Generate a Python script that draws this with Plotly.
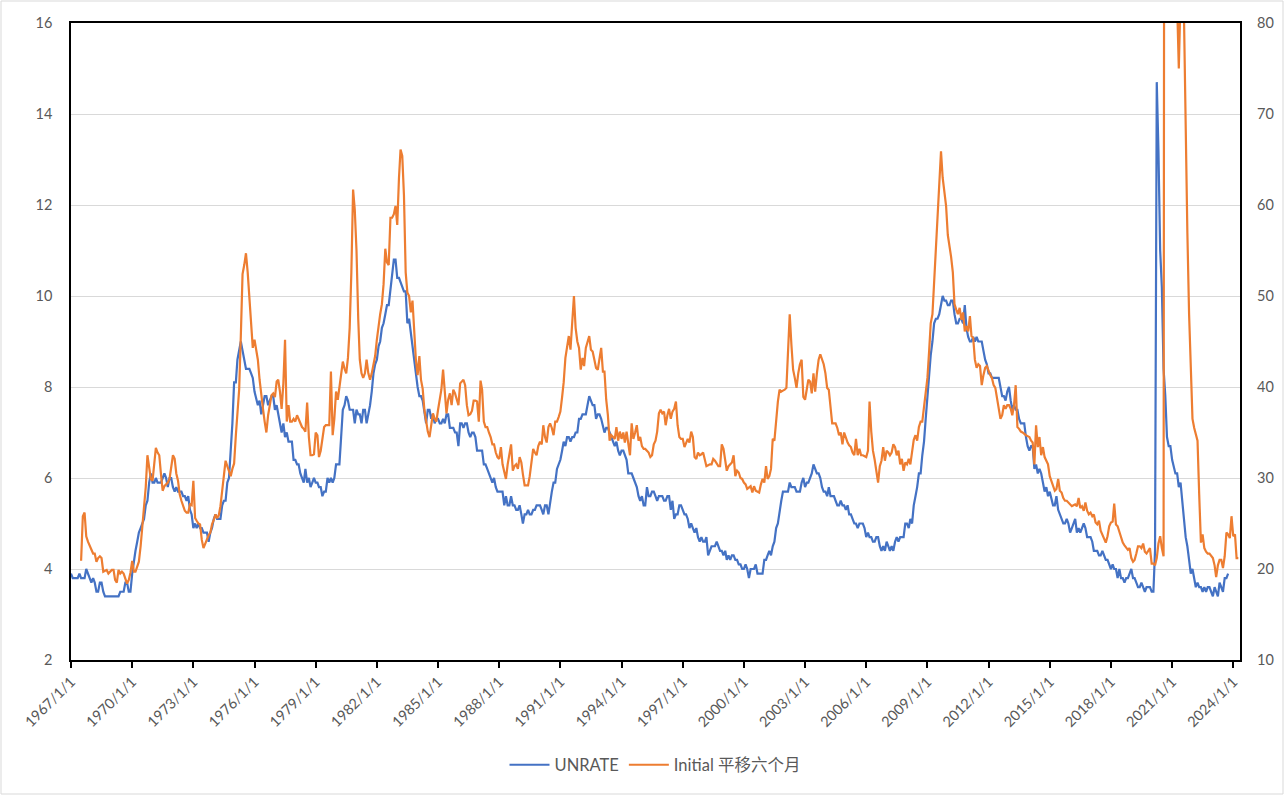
import pandas as pd
import plotly.graph_objects as go

# UNRATE, monthly from 1967-01 (one line per year)
unrate = [
    3.9, 3.8, 3.8, 3.8, 3.8, 3.9, 3.8, 3.8, 3.8, 4.0, 3.9, 3.8,
    3.7, 3.8, 3.7, 3.5, 3.5, 3.7, 3.7, 3.5, 3.4, 3.4, 3.4, 3.4,
    3.4, 3.4, 3.4, 3.4, 3.4, 3.5, 3.5, 3.5, 3.7, 3.7, 3.5, 3.5,
    3.9, 4.2, 4.4, 4.6, 4.8, 4.9, 5.0, 5.1, 5.4, 5.5, 5.9, 6.1,
    5.9, 5.9, 6.0, 5.9, 5.9, 5.9, 6.0, 6.1, 6.0, 5.8, 6.0, 6.0,
    5.8, 5.7, 5.8, 5.7, 5.7, 5.7, 5.6, 5.6, 5.5, 5.6, 5.3, 5.2,
    4.9, 5.0, 4.9, 5.0, 4.9, 4.9, 4.8, 4.8, 4.8, 4.6, 4.8, 4.9,
    5.1, 5.2, 5.1, 5.1, 5.1, 5.4, 5.5, 5.5, 5.9, 6.0, 6.6, 7.2,
    8.1, 8.1, 8.6, 8.8, 9.0, 8.8, 8.6, 8.4, 8.4, 8.4, 8.3, 8.2,
    7.9, 7.7, 7.6, 7.7, 7.4, 7.6, 7.8, 7.8, 7.6, 7.7, 7.8, 7.8,
    7.5, 7.6, 7.4, 7.2, 7.0, 7.2, 6.9, 7.0, 6.8, 6.8, 6.8, 6.4,
    6.4, 6.3, 6.3, 6.1, 6.0, 5.9, 6.2, 5.9, 6.0, 5.8, 5.9, 6.0,
    5.9, 5.9, 5.8, 5.8, 5.6, 5.7, 5.7, 6.0, 5.9, 6.0, 5.9, 6.0,
    6.3, 6.3, 6.3, 6.9, 7.5, 7.6, 7.8, 7.7, 7.5, 7.5, 7.5, 7.2,
    7.5, 7.4, 7.4, 7.2, 7.5, 7.5, 7.2, 7.4, 7.6, 7.9, 8.3, 8.5,
    8.6, 8.9, 9.0, 9.3, 9.4, 9.6, 9.8, 9.8, 10.1, 10.4, 10.8, 10.8,
    10.4, 10.4, 10.3, 10.2, 10.1, 10.1, 9.4, 9.5, 9.2, 8.8, 8.5, 8.3,
    8.0, 7.8, 7.8, 7.7, 7.4, 7.2, 7.5, 7.5, 7.3, 7.4, 7.2, 7.3,
    7.3, 7.2, 7.2, 7.3, 7.2, 7.4, 7.4, 7.1, 7.1, 7.1, 7.0, 7.0,
    6.7, 7.2, 7.2, 7.1, 7.2, 7.2, 7.0, 6.9, 7.0, 7.0, 6.9, 6.6,
    6.6, 6.6, 6.6, 6.3, 6.3, 6.2, 6.1, 6.0, 5.9, 6.0, 5.8, 5.7,
    5.7, 5.7, 5.7, 5.4, 5.6, 5.4, 5.4, 5.6, 5.4, 5.4, 5.3, 5.3,
    5.4, 5.2, 5.0, 5.2, 5.2, 5.3, 5.2, 5.2, 5.3, 5.3, 5.4, 5.4,
    5.4, 5.3, 5.2, 5.4, 5.4, 5.2, 5.5, 5.7, 5.9, 5.9, 6.2, 6.3,
    6.4, 6.6, 6.8, 6.7, 6.9, 6.9, 6.8, 6.9, 6.9, 7.0, 7.0, 7.3,
    7.3, 7.4, 7.4, 7.4, 7.6, 7.8, 7.7, 7.6, 7.6, 7.3, 7.4, 7.4,
    7.3, 7.1, 7.0, 7.1, 7.1, 7.0, 6.9, 6.8, 6.7, 6.8, 6.6, 6.5,
    6.6, 6.6, 6.5, 6.4, 6.1, 6.1, 6.1, 6.0, 5.9, 5.8, 5.6, 5.5,
    5.6, 5.4, 5.4, 5.8, 5.6, 5.6, 5.7, 5.7, 5.6, 5.5, 5.6, 5.6,
    5.6, 5.5, 5.5, 5.6, 5.6, 5.3, 5.5, 5.1, 5.2, 5.2, 5.4, 5.4,
    5.3, 5.2, 5.2, 5.1, 4.9, 5.0, 4.9, 4.8, 4.9, 4.7, 4.6, 4.7,
    4.6, 4.6, 4.7, 4.3, 4.4, 4.5, 4.5, 4.5, 4.6, 4.5, 4.4, 4.4,
    4.3, 4.4, 4.2, 4.3, 4.2, 4.3, 4.3, 4.2, 4.2, 4.1, 4.1, 4.0,
    4.0, 4.1, 4.0, 3.8, 4.0, 4.0, 4.0, 4.1, 3.9, 3.9, 3.9, 3.9,
    4.2, 4.2, 4.3, 4.4, 4.3, 4.5, 4.6, 4.9, 5.0, 5.3, 5.5, 5.7,
    5.7, 5.7, 5.7, 5.9, 5.8, 5.8, 5.8, 5.7, 5.7, 5.7, 5.9, 6.0,
    5.8, 5.9, 5.9, 6.0, 6.1, 6.3, 6.2, 6.1, 6.1, 6.0, 5.8, 5.7,
    5.7, 5.6, 5.8, 5.6, 5.6, 5.6, 5.5, 5.4, 5.4, 5.5, 5.4, 5.4,
    5.3, 5.4, 5.2, 5.2, 5.1, 5.0, 5.0, 4.9, 5.0, 5.0, 5.0, 4.9,
    4.7, 4.8, 4.7, 4.7, 4.6, 4.6, 4.7, 4.7, 4.5, 4.4, 4.5, 4.4,
    4.6, 4.5, 4.4, 4.5, 4.4, 4.6, 4.7, 4.6, 4.7, 4.7, 4.7, 5.0,
    5.0, 4.9, 5.1, 5.0, 5.4, 5.6, 5.8, 6.1, 6.1, 6.5, 6.8, 7.3,
    7.8, 8.3, 8.7, 9.0, 9.4, 9.5, 9.5, 9.6, 9.8, 10.0, 9.9, 9.9,
    9.8, 9.8, 9.9, 9.9, 9.6, 9.4, 9.4, 9.5, 9.5, 9.4, 9.8, 9.3,
    9.1, 9.0, 9.0, 9.1, 9.0, 9.1, 9.0, 9.0, 9.0, 8.8, 8.6, 8.5,
    8.3, 8.3, 8.2, 8.2, 8.2, 8.2, 8.2, 8.0, 7.8, 7.8, 7.7, 7.9,
    8.0, 7.7, 7.5, 7.6, 7.5, 7.5, 7.3, 7.2, 7.2, 7.2, 6.9, 6.7,
    6.6, 6.7, 6.7, 6.2, 6.3, 6.1, 6.2, 6.1, 5.9, 5.7, 5.8, 5.6,
    5.7, 5.5, 5.4, 5.4, 5.6, 5.3, 5.2, 5.1, 5.0, 5.0, 5.1, 5.0,
    4.8, 4.9, 5.0, 5.1, 4.8, 4.9, 4.8, 4.9, 5.0, 4.9, 4.7, 4.7,
    4.7, 4.6, 4.4, 4.4, 4.4, 4.3, 4.3, 4.4, 4.3, 4.2, 4.2, 4.1,
    4.0, 4.1, 4.0, 4.0, 3.8, 4.0, 3.8, 3.8, 3.7, 3.8, 3.8, 3.9,
    4.0, 3.8, 3.8, 3.7, 3.6, 3.6, 3.7, 3.6, 3.5, 3.6, 3.6, 3.6,
    3.5, 3.5, 4.4, 14.7, 13.2, 11.0, 10.2, 8.4, 7.8, 6.9, 6.7, 6.7,
    6.4, 6.2, 6.1, 6.1, 5.8, 5.9, 5.4, 5.1, 4.7, 4.5, 4.2, 3.9,
    4.0, 3.8, 3.6, 3.7, 3.6, 3.6, 3.5, 3.6, 3.5, 3.6, 3.6, 3.5,
    3.4, 3.6, 3.5, 3.4, 3.7, 3.6, 3.5, 3.8, 3.8, 3.9,
]

# Initial claims (10k), shifted six months: monthly from 1967-07
claims_shifted = [
    20.9, 25.8, 26.2, 23.6, 23.0, 22.6,
    22.0, 21.7, 21.7, 20.8, 21.2, 21.4, 21.2, 19.7, 19.8, 19.9, 19.5, 19.7,
    19.9, 19.9, 18.8, 18.5, 19.9, 19.5, 19.7, 19.5, 19.0, 18.4, 18.8, 19.6,
    20.9, 19.7, 19.7, 20.2, 20.8, 22.5, 24.5, 26.5, 29.0, 32.5, 31.2, 29.9,
    29.7, 32.1, 33.3, 32.8, 32.5, 30.4, 28.6, 29.1, 29.3, 29.5, 29.9, 31.2,
    32.5, 32.1, 30.5, 29.7, 28.2, 27.5, 26.9, 26.4, 26.2, 26.2, 27.1, 27.0,
    29.7, 25.6, 25.3, 25.0, 24.9, 23.2, 22.3, 22.8, 23.4, 23.7, 24.0, 24.9,
    25.4, 26.0, 25.6, 25.9, 26.9, 28.8, 30.6, 31.9, 31.3, 30.8, 30.2, 31.0,
    31.6, 34.7, 36.9, 39.7, 45.6, 52.4, 53.4, 54.7, 52.6, 49.7, 46.9, 44.3,
    45.2, 44.0, 43.0, 40.8, 39.0, 37.6, 36.2, 35.0, 36.9, 38.0, 39.1, 39.3,
    38.9, 40.6, 40.8, 39.5, 37.6, 40.4, 45.2, 36.2, 38.0, 36.2, 36.2, 36.5,
    36.2, 36.9, 36.5, 36.0, 35.6, 35.4, 35.1, 38.3, 34.5, 32.5, 32.5, 32.6,
    35.0, 34.7, 32.3, 33.0, 34.3, 35.6, 35.8, 35.8, 35.8, 41.7, 34.7, 36.5,
    39.5, 38.6, 39.8, 41.0, 42.8, 42.0, 41.5, 43.2, 46.5, 52.6, 61.7, 59.5,
    55.0, 47.5, 43.0, 41.5, 41.0, 41.5, 43.0, 41.5, 40.8, 41.5, 42.5, 43.4,
    45.2, 46.9, 48.0, 49.1, 51.3, 55.2, 53.7, 53.4, 58.6, 58.6, 59.0, 59.9,
    57.8, 63.0, 66.1, 65.4, 61.1, 52.6, 50.4, 50.0, 48.2, 49.5, 45.6, 43.0,
    41.3, 43.4, 40.8, 39.8, 37.5, 36.0, 35.1, 34.5, 35.6, 37.1, 36.5, 36.2,
    37.5, 38.6, 39.7, 41.9, 38.9, 37.1, 38.6, 39.3, 38.0, 39.7, 39.3, 38.5,
    38.0, 40.4, 40.6, 40.8, 40.2, 38.0, 36.9, 37.0, 37.4, 38.5, 38.5, 38.4,
    36.2, 40.7, 39.7, 36.2, 35.6, 35.6, 35.0, 34.5, 33.7, 33.7, 32.8, 32.3,
    32.1, 33.4, 31.5, 30.6, 29.9, 31.5, 32.5, 33.7, 30.8, 31.3, 31.5, 31.0,
    32.3, 31.7, 30.4, 29.2, 29.2, 29.2, 30.2, 31.9, 33.2, 32.8, 32.5, 33.5,
    34.0, 33.7, 35.8, 34.5, 33.9, 35.6, 36.0, 35.5, 34.7, 36.2, 36.2, 36.7,
    37.3, 38.9, 40.5, 43.2, 44.5, 45.6, 44.1, 46.9, 50.0, 46.5, 45.0, 44.3,
    41.9, 43.2, 42.3, 44.3, 45.0, 45.6, 44.1, 43.9, 43.0, 42.1, 41.9, 43.0,
    44.3, 41.7, 41.7, 38.6, 36.9, 34.1, 34.7, 34.5, 34.3, 35.6, 34.1, 35.1,
    34.3, 35.0, 33.9, 35.1, 33.5, 32.5, 36.0, 34.3, 35.0, 35.8, 34.1, 34.5,
    33.5, 33.2, 33.2, 33.0, 32.8, 32.3, 32.5, 33.7, 34.1, 35.1, 37.1, 37.5,
    37.1, 37.3, 35.8, 36.9, 37.6, 36.5, 37.3, 37.6, 38.4, 35.8, 34.5, 34.3,
    34.3, 33.4, 33.8, 34.3, 33.9, 35.1, 34.5, 32.3, 32.1, 32.8, 32.5, 32.6,
    32.8, 32.1, 31.3, 31.4, 31.5, 31.5, 32.1, 31.9, 31.5, 31.3, 31.3, 33.7,
    33.2, 31.7, 30.8, 31.3, 31.5, 31.7, 32.5, 30.2, 30.8, 30.6, 30.0, 29.9,
    29.5, 29.3, 28.8, 29.0, 29.1, 28.4, 29.1, 28.6, 28.5, 28.4, 29.3, 29.9,
    29.5, 31.3, 29.9, 30.2, 31.0, 34.3, 34.1, 36.5, 38.4, 39.7, 39.5, 39.6,
    39.7, 39.9, 44.3, 48.0, 44.7, 41.9, 41.0, 39.9, 41.5, 42.5, 43.0, 38.9,
    38.6, 40.0, 40.8, 40.6, 39.3, 41.5, 39.5, 41.5, 43.0, 43.6, 43.0, 42.5,
    41.5, 39.9, 39.7, 37.3, 36.0, 36.0, 36.0, 35.5, 34.7, 35.0, 33.7, 35.0,
    34.3, 33.9, 33.6, 33.4, 32.8, 32.5, 34.3, 32.5, 33.2, 32.5, 32.5, 32.4,
    32.3, 33.0, 38.4, 35.1, 33.0, 32.0, 30.5, 29.5, 31.3, 31.9, 33.4, 31.9,
    33.0, 32.8, 32.5, 32.8, 33.7, 33.4, 32.5, 33.0, 31.5, 32.1, 30.8, 31.7,
    31.5, 32.1, 31.5, 33.2, 34.2, 34.7, 34.1, 35.6, 36.2, 36.2, 38.0, 39.7,
    41.0, 44.0, 47.0, 48.0, 51.5, 55.5, 58.0, 62.5, 65.9, 63.0, 61.7, 59.9,
    56.7, 55.6, 54.3, 52.6, 49.1, 48.5, 48.0, 48.7, 47.4, 48.2, 46.1, 46.7,
    46.1, 47.8, 45.6, 45.4, 43.0, 42.1, 42.5, 42.3, 40.2, 41.3, 42.1, 42.3,
    41.7, 41.3, 41.0, 40.2, 39.9, 38.6, 37.8, 36.5, 36.9, 38.0, 37.6, 38.0,
    38.0, 37.6, 36.9, 38.0, 40.2, 35.6, 35.4, 35.1, 35.0, 34.8, 34.7, 34.6,
    34.5, 34.1, 33.9, 31.5, 35.8, 33.4, 34.5, 32.5, 33.4, 32.3, 31.9, 31.5,
    30.2, 29.7, 29.1, 28.6, 28.8, 29.9, 28.6, 28.4, 27.8, 27.5, 27.5, 27.3,
    27.1, 26.9, 27.0, 27.1, 26.9, 27.8, 26.7, 26.9, 26.4, 27.3, 26.4, 26.0,
    26.2, 25.8, 26.0, 25.1, 24.9, 25.3, 24.2, 23.8, 23.3, 22.9, 23.6, 24.7,
    25.1, 25.2, 27.2, 24.9, 24.7, 24.0, 23.4, 22.9, 22.6, 22.3, 22.1, 22.3,
    21.2, 20.8, 21.0, 21.7, 22.5, 22.5, 22.3, 22.8, 21.9, 21.7, 22.1, 22.3,
    20.6, 20.6, 20.4, 21.2, 22.8, 23.6, 22.3, 21.4, 235.0, 480.0, 260.0, 165.0,
    140.0, 110.0, 90.0, 82.0, 75.0, 83.0, 86.0, 81.0, 67.4, 57.0, 48.0, 41.0,
    36.5, 35.5, 34.7, 34.1, 28.2, 22.9, 23.8, 22.3, 21.9, 21.7, 21.7, 21.4,
    21.2, 20.4, 19.1, 20.4, 21.0, 21.0, 20.1, 21.4, 24.0, 23.8, 23.4, 25.8,
    23.6, 23.8, 21.2, 21.2,
]

tick_years = list(range(1967, 2025, 3))
tick_vals = [f"{y}-01-01" for y in tick_years]
tick_text = [f"{y}/1/1" for y in tick_years]

unrate_dates = pd.date_range("1967-01-01", periods=len(unrate), freq="MS")
claims_dates = pd.date_range("1967-07-01", periods=len(claims_shifted), freq="MS")

FONT = "Lato, 'Noto Sans CJK SC', sans-serif"
GREY = "#595959"

fig = go.Figure()
fig.add_trace(go.Scatter(
    x=unrate_dates, y=unrate, mode="lines", name="UNRATE",
    line=dict(color="#4472C4", width=2.2), yaxis="y",
))
fig.add_trace(go.Scatter(
    x=claims_dates, y=claims_shifted, mode="lines", name="Initial 平移六个月",
    line=dict(color="#ED7D31", width=2.2), yaxis="y2",
))

W, H = 1285, 796
L, R, T, B = 71, 45, 23, 136
pw, ph = W - L - R, H - T - B

fig.update_layout(
    width=W, height=H,
    margin=dict(l=L, r=R, t=T, b=B, pad=0, autoexpand=False),
    paper_bgcolor="white", plot_bgcolor="white",
    font=dict(family=FONT, size=14, color=GREY),
    showlegend=True,
    legend=dict(orientation="h", x=0.5, xanchor="center",
                y=(T + ph - 765) / ph, yanchor="middle",
                font=dict(size=16.5, color=GREY), itemwidth=40,
                traceorder="normal"),
    xaxis=dict(
        type="date", range=["1967-01-01", "2024-05-01"],
        tickvals=tick_vals, ticktext=tick_text, tickangle=-45,
        ticks="outside", ticklen=6, tickwidth=1.5, tickcolor="black",
        showline=True, linecolor="black", linewidth=1.5, mirror=True,
        showgrid=False, zeroline=False, automargin=False,
        tickfont=dict(size=14.5, color=GREY),
    ),
    yaxis=dict(
        range=[2, 16], dtick=2, tick0=2,
        showgrid=True, gridcolor="#D9D9D9", gridwidth=1.4,
        showline=True, linecolor="black", linewidth=1.5, mirror=True,
        zeroline=False, ticks="", ticklabelstandoff=14, automargin=False,
        tickfont=dict(size=14.5, color=GREY),
    ),
    yaxis2=dict(
        range=[10, 80], dtick=10, tick0=10, overlaying="y", side="right",
        showgrid=False, zeroline=False, showline=False, ticks="",
        ticklabelstandoff=16, automargin=False,
        tickfont=dict(size=14.5, color=GREY),
    ),
    shapes=[dict(
        type="rect", xref="paper", yref="paper",
        x0=(1 - L) / pw, x1=(W - 2 - L) / pw,
        y0=-(H - 2 - T - ph) / ph, y1=(T - 1) / ph + 1,
        line=dict(color="#D9D9D9", width=1), fillcolor="rgba(0,0,0,0)",
        layer="below",
    )],
)

fig.write_html("out.html", config={"displayModeBar": False},
               post_script="document.body.style.margin='0';")
